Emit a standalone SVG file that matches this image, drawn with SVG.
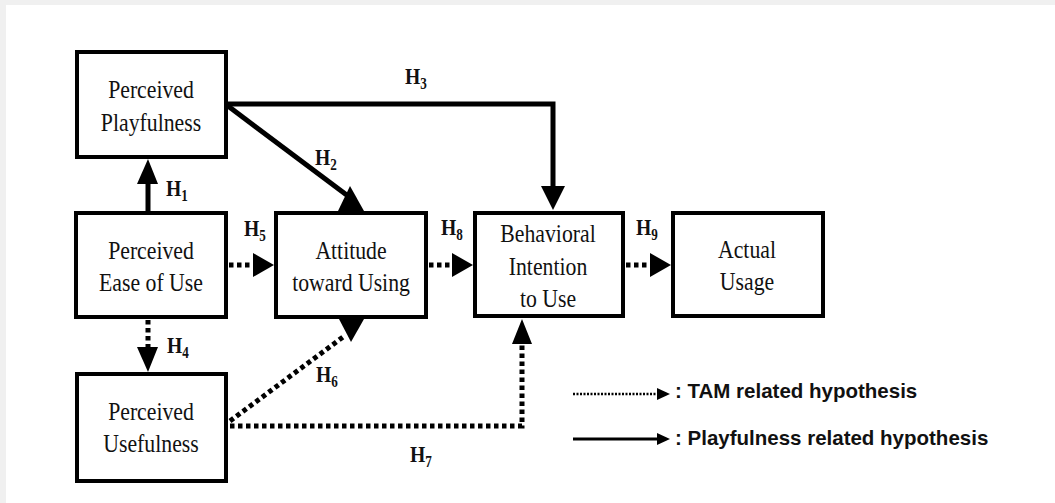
<svg xmlns="http://www.w3.org/2000/svg" width="1055" height="503" viewBox="0 0 1055 503">
<defs>
<style>
.box{fill:#fff;stroke:#000;stroke-width:4}
.t{font-family:"Liberation Serif","Times New Roman",serif;font-size:25px;fill:#111;text-anchor:middle}
.h{font-family:"Liberation Serif","Times New Roman",serif;font-size:24px;font-weight:bold;fill:#111}
.sub{font-size:16px}
.solid{fill:none;stroke:#000;stroke-width:5}
.dot{fill:none;stroke:#000;stroke-width:5;stroke-dasharray:4.5 3.5}
.head{fill:#000}
.leg{font-family:"Liberation Sans",Arial,sans-serif;font-size:20.5px;font-weight:bold;fill:#111}
</style>
</defs>
<rect x="0" y="0" width="1055" height="503" fill="#f0f0f0"/>
<rect x="6" y="5" width="1049" height="498" fill="#fff"/>

<g id="connectors">
<!-- H1 -->
<line class="solid" x1="148" y1="211" x2="148" y2="182"/>
<polygon class="head" points="148,159 137,184 158,184"/>
<!-- H3 -->
<polyline class="solid" points="226,104 553,104 553,188"/>
<polygon class="head" points="553,210 541,186 565,186"/>
<!-- H2 -->
<line class="solid" x1="228" y1="106" x2="348" y2="196"/>
<polygon class="head" points="350,186 338,211 364,211"/>
<!-- H5 -->
<line class="dot" x1="229" y1="265" x2="255" y2="265"/>
<polygon class="head" points="274,265 253,253 253,277"/>
<!-- H8 -->
<line class="dot" x1="429" y1="265" x2="454" y2="265"/>
<polygon class="head" points="473,265 452,253 452,277"/>
<!-- H9 -->
<line class="dot" x1="626" y1="265" x2="651" y2="265"/>
<polygon class="head" points="671,265 650,253 650,277"/>
<!-- H4 -->
<line class="dot" x1="148" y1="320" x2="148" y2="348"/>
<polygon class="head" points="148,372 137,347 158,347"/>
<!-- H6 -->
<line class="dot" x1="230" y1="421" x2="343" y2="337"/>
<polygon class="head" points="339,319 364,319 351,342"/>
<!-- H7 -->
<polyline class="dot" points="230,426 522,426 522,343"/>
<polygon class="head" points="522,319 512,344 532,344"/>
</g>

<g id="labels">
<text class="h" transform="translate(166,196) scale(0.82,1)">H<tspan class="sub" dy="5">1</tspan></text>
<text class="h" transform="translate(315,165) scale(0.82,1)">H<tspan class="sub" dy="5">2</tspan></text>
<text class="h" transform="translate(405,84) scale(0.82,1)">H<tspan class="sub" dy="5">3</tspan></text>
<text class="h" transform="translate(167,353) scale(0.82,1)">H<tspan class="sub" dy="5">4</tspan></text>
<text class="h" transform="translate(244,236) scale(0.82,1)">H<tspan class="sub" dy="5">5</tspan></text>
<text class="h" transform="translate(316,382) scale(0.82,1)">H<tspan class="sub" dy="5">6</tspan></text>
<text class="h" transform="translate(410,462) scale(0.82,1)">H<tspan class="sub" dy="5">7</tspan></text>
<text class="h" transform="translate(441,235) scale(0.82,1)">H<tspan class="sub" dy="5">8</tspan></text>
<text class="h" transform="translate(636,235) scale(0.82,1)">H<tspan class="sub" dy="5">9</tspan></text>
</g>

<g id="node-pp">
<rect class="box" x="77" y="52" width="149" height="105"/>
<text class="t" transform="translate(151,98) scale(0.87,1)">Perceived</text>
<text class="t" transform="translate(151,131) scale(0.87,1)">Playfulness</text>
</g>
<g id="node-peou">
<rect class="box" x="76" y="213" width="150" height="104"/>
<text class="t" transform="translate(151,259) scale(0.87,1)">Perceived</text>
<text class="t" transform="translate(151,291) scale(0.87,1)">Ease of Use</text>
</g>
<g id="node-atu">
<rect class="box" x="276" y="213" width="150" height="104"/>
<text class="t" transform="translate(351,259) scale(0.87,1)">Attitude</text>
<text class="t" transform="translate(351,291) scale(0.87,1)">toward Using</text>
</g>
<g id="node-bi">
<rect class="box" x="475" y="213" width="148" height="103"/>
<text class="t" transform="translate(548,242) scale(0.87,1)">Behavioral</text>
<text class="t" transform="translate(548,275) scale(0.87,1)">Intention</text>
<text class="t" transform="translate(548,307) scale(0.87,1)">to Use</text>
</g>
<g id="node-au">
<rect class="box" x="673" y="213" width="150" height="103"/>
<text class="t" transform="translate(747,258) scale(0.87,1)">Actual</text>
<text class="t" transform="translate(747,290) scale(0.87,1)">Usage</text>
</g>
<g id="node-pu">
<rect class="box" x="77" y="374" width="149" height="107"/>
<text class="t" transform="translate(151,420) scale(0.87,1)">Perceived</text>
<text class="t" transform="translate(151,452) scale(0.87,1)">Usefulness</text>
</g>

<g id="legend">
<line x1="573" y1="394" x2="658" y2="394" stroke="#000" stroke-width="2.5" stroke-dasharray="2 1.5"/>
<polygon class="head" points="670,394 657,388 657,400"/>
<text class="leg" x="675" y="398">: TAM related hypothesis</text>
<line x1="573" y1="439" x2="658" y2="439" stroke="#000" stroke-width="3"/>
<polygon class="head" points="670,439 657,433 657,445"/>
<text class="leg" x="675" y="445">: Playfulness related hypothesis</text>
</g>
</svg>
